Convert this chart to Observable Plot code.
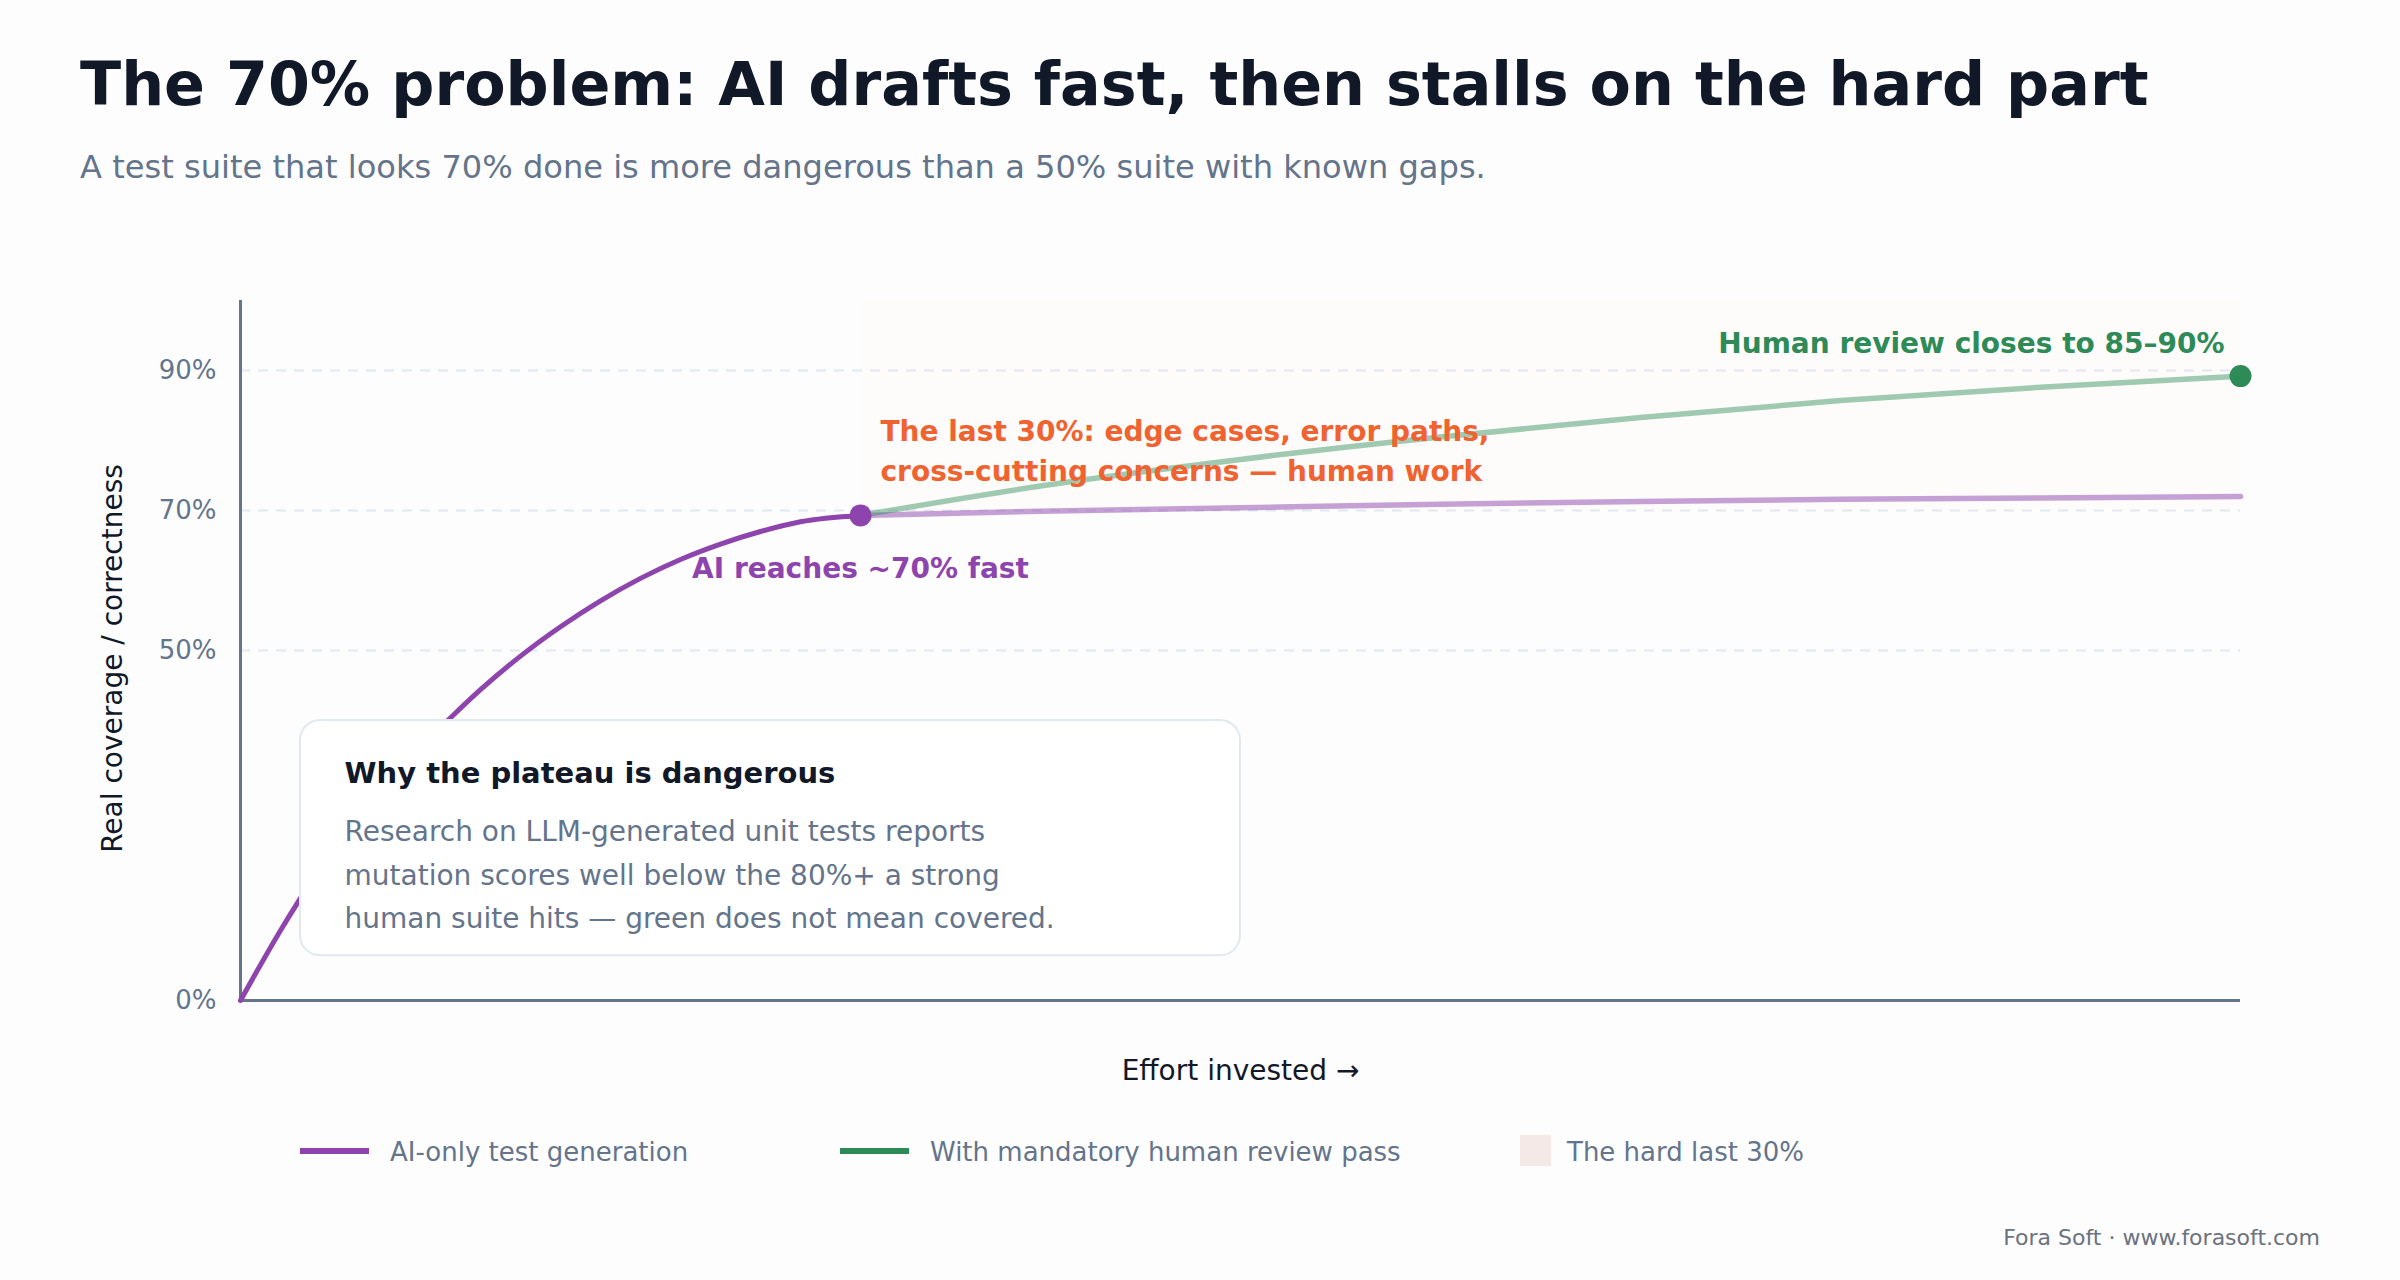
<!DOCTYPE html>
<html>
<head>
<meta charset="utf-8">
<script src="https://cdn.jsdelivr.net/npm/d3@7"></script>
<script src="https://cdn.jsdelivr.net/npm/@observablehq/plot@0.6"></script>
<style>
  html, body { margin: 0; padding: 0; background: #fdfdfd; }
  body { width: 2400px; height: 1280px; position: relative; overflow: hidden; font-family: "DejaVu Sans", sans-serif; }
  .abs { position: absolute; line-height: 1; white-space: nowrap; }
  #title { left: 80px; top: 54px; font-size: 60.3px; font-weight: bold; color: #111827; }
  #subtitle { left: 80px; top: 151px; font-size: 32.1px; color: #64748b; }
  #chart { position: absolute; left: 0; top: 260px; }
  .swatch-line { position: absolute; width: 69px; height: 6px; top: 1148px; }
  .swatch-box { position: absolute; width: 31px; height: 31px; top: 1135px; }
  .legend-text { top: 1139px; font-size: 26px; color: #64748b; }
  #footer { right: 80px; top: 1227px; font-size: 22px; color: #6b7280; }
</style>
</head>
<body>
<div id="title" class="abs"></div>
<div id="subtitle" class="abs"></div>
<div id="chart"></div>
<div id="legend"></div>
<div id="footer" class="abs"></div>
<script>
// Text
const titleText = "The 70% problem: AI drafts fast, then stalls on the hard part";
const subtitleText = "A test suite that looks 70% done is more dangerous than a 50% suite with known gaps.";
const footerText = "Fora Soft · www.forasoft.com";
const xLabel = "Effort invested →";
const yLabel = "Real coverage / correctness";

// AI-only: fast rise up to the knee
const effortRise = [0, 2, 4, 6, 8, 10, 12, 14, 16, 18, 20, 22, 24, 26, 28, 31];
const coverageRise = [0, 10, 19, 27.2, 33.5, 39, 44.4, 49.2, 53.4, 57.1, 60.3, 63, 65.2, 67, 68.4, 69.3];

// After the knee: AI plateau vs. human review pass
const effortAfter = [31, 40, 50, 60, 70, 80, 90, 100];
const coveragePlateau = [69.3, 69.9, 70.4, 70.9, 71.3, 71.6, 71.8, 72.0];
const coverageReviewed = [69.3, 73.5, 77.3, 80.5, 83.3, 85.7, 87.6, 89.2];

// Axis ticks and dashed gridlines
const yTicks = [0, 50, 70, 90];
const gridLevels = [50, 70, 90];

// The hard last 30% zone
const hardZoneX = [31, 100];
const hardZoneY = [70, 100];

// Callout box extent (effort, coverage)
const noteBoxX = [3, 50];
const noteBoxY = [6.4, 40];

// Labels
const legendLabels = ["AI-only test generation", "With mandatory human review pass", "The hard last 30%"];
const kneeLabel = "AI reaches ~70% fast";
const reviewLabel = "Human review closes to 85–90%";
const gapLabel = "The last 30%: edge cases, error paths,\ncross-cutting concerns — human work";
const noteTitle = "Why the plateau is dangerous";
const noteBody = "Research on LLM-generated unit tests reports\nmutation scores well below the 80%+ a strong\nhuman suite hits — green does not mean covered.";

// Colours
const purple = "#8e44ad";
const green = "#2e8b57";
const orange = "#f0622f";
const slate = "#64748b";
const ink = "#111827";

document.getElementById("title").textContent = titleText;
document.getElementById("subtitle").textContent = subtitleText;
document.getElementById("footer").textContent = footerText;

const rise = effortRise.map((x, i) => ({x, y: coverageRise[i]}));
const plateau = effortAfter.map((x, i) => ({x, y: coveragePlateau[i]}));
const reviewed = effortAfter.map((x, i) => ({x, y: coverageReviewed[i]}));
const knee = rise[rise.length - 1];
const reviewEnd = reviewed[reviewed.length - 1];
const zone = [{x1: hardZoneX[0], x2: hardZoneX[1], y1: hardZoneY[0], y2: hardZoneY[1]}];
const note = [{x1: noteBoxX[0], x2: noteBoxX[1], y1: noteBoxY[0], y2: noteBoxY[1]}];

const chart = Plot.plot({
  width: 2400,
  height: 840,
  marginLeft: 240,
  marginRight: 160,
  marginTop: 40,
  marginBottom: 100,
  x: {domain: [0, 100], axis: null},
  y: {domain: [0, 100], axis: null},
  style: {fontFamily: "DejaVu Sans", background: "transparent", overflow: "visible"},
  marks: [
    Plot.ruleY(gridLevels, {stroke: "#e2e8f0", strokeWidth: 2, strokeDasharray: "10,8"}),
    Plot.rect(zone, {x1: "x1", x2: "x2", y1: "y1", y2: "y2", fill: "#e8a898", fillOpacity: 0.015}),
    Plot.axisY(yTicks, {tickSize: 0, tickPadding: 24, tickFormat: d => d + "%", fontSize: 26, fill: slate, label: null}),
    Plot.ruleX([0], {stroke: slate, strokeWidth: 3}),
    Plot.ruleY([0], {stroke: slate, strokeWidth: 3}),
    Plot.text([yLabel], {frameAnchor: "left", textAnchor: "middle", rotate: -90, dx: -127, dy: 8, fontSize: 28, fill: ink}),
    Plot.text([xLabel], {frameAnchor: "bottom", dy: 79, fontSize: 28, fill: ink}),

    // AI rise
    Plot.line(rise, {x: "x", y: "y", stroke: purple, strokeWidth: 5, curve: "monotone-x"}),

    // Callout box
    Plot.rect(note, {x1: "x1", x2: "x2", y1: "y1", y2: "y2", fill: "#ffffff", stroke: "#e2e8f0", strokeWidth: 2, rx: 20}),
    Plot.text(note, {x: "x1", y: "y2", text: () => noteTitle, textAnchor: "start", lineAnchor: "top", dx: 44, dy: 42, fontSize: 29, fontWeight: "bold", fill: ink}),
    Plot.text(note, {x: "x1", y: "y2", text: () => noteBody, textAnchor: "start", lineAnchor: "top", dx: 44, dy: 90, lineHeight: 1.55, fontSize: 28, fill: slate}),

    // After the knee
    Plot.line(plateau, {x: "x", y: "y", stroke: purple, strokeOpacity: 0.5, strokeWidth: 5.5, curve: "monotone-x"}),
    Plot.line(reviewed, {x: "x", y: "y", stroke: green, strokeOpacity: 0.45, strokeWidth: 5.5, curve: "monotone-x"}),
    Plot.dot([knee], {x: "x", y: "y", r: 11, fill: purple}),
    Plot.dot([reviewEnd], {x: "x", y: "y", r: 11, fill: green}),

    // Annotations
    Plot.text([knee], {x: "x", y: "y", text: () => kneeLabel, dy: 54, fontSize: 28, fontWeight: "bold", fill: purple}),
    Plot.text([knee], {x: "x", y: "y", text: () => gapLabel, textAnchor: "start", dx: 20, dy: -67.5, lineHeight: 1.44, fontSize: 28, fontWeight: "bold", fill: orange}),
    Plot.text([reviewEnd], {x: "x", y: "y", text: () => reviewLabel, textAnchor: "end", dx: -16, dy: -32, fontSize: 28, fontWeight: "bold", fill: green})
  ]
});
document.getElementById("chart").appendChild(chart);

// Legend
const legend = document.getElementById("legend");
const legendItems = [
  {kind: "line", color: purple, swatchX: 300, textX: 390},
  {kind: "line", color: green, swatchX: 840, textX: 930},
  {kind: "box", color: "#f4e9e7", swatchX: 1520, textX: 1567}
];
legendItems.forEach((item, i) => {
  const sw = document.createElement("div");
  sw.className = item.kind === "line" ? "swatch-line" : "swatch-box";
  sw.style.left = item.swatchX + "px";
  sw.style.background = item.color;
  legend.appendChild(sw);
  const t = document.createElement("div");
  t.className = "abs legend-text";
  t.style.left = item.textX + "px";
  t.textContent = legendLabels[i];
  legend.appendChild(t);
});
</script>
</body>
</html>
